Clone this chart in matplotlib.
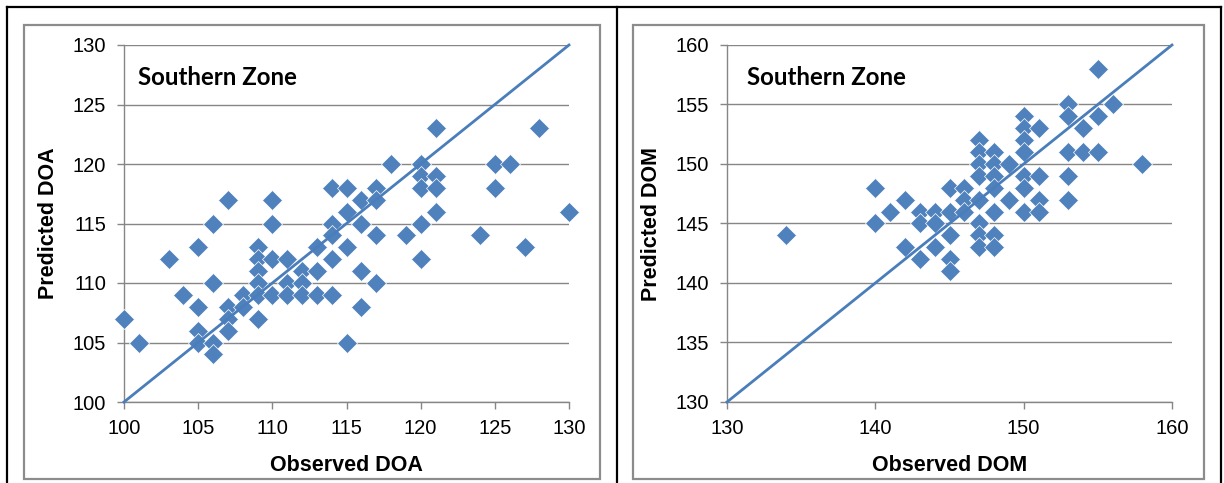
import matplotlib
matplotlib.use('Agg')
import matplotlib.pyplot as plt
from matplotlib.lines import Line2D
from matplotlib.patches import Rectangle

# ---- Data: Southern Zone, DOA ----
doa_observed = [100, 101, 103, 104, 105, 105, 105, 105, 106, 106, 106, 106,
                107, 107, 107, 107, 108, 108, 109, 109, 109, 109, 109, 109,
                110, 110, 110, 110, 111, 111, 111, 112, 112, 112, 113, 113, 113,
                114, 114, 114, 114, 114, 115, 115, 115, 115, 116, 116, 116, 116,
                117, 117, 117, 117, 118, 119, 120, 120, 120, 120, 120,
                121, 121, 121, 121, 124, 125, 125, 126, 127, 128, 130]
doa_predicted = [107, 105, 112, 109, 113, 108, 106, 105, 115, 110, 105, 104,
                 117, 108, 107, 106, 109, 108, 113, 112, 111, 110, 109, 107,
                 117, 115, 112, 109, 112, 110, 109, 111, 110, 109, 113, 111, 109,
                 118, 115, 114, 112, 109, 118, 116, 113, 105, 117, 115, 111, 108,
                 118, 117, 114, 110, 120, 114, 120, 119, 118, 115, 112,
                 123, 119, 118, 116, 114, 120, 118, 120, 113, 123, 116]

# ---- Data: Southern Zone, DOM ----
dom_observed = [134, 140, 140, 141, 142, 142, 143, 143, 143, 144, 144, 144,
                145, 145, 145, 145, 145, 146, 146, 146,
                147, 147, 147, 147, 147, 147, 147, 147,
                148, 148, 148, 148, 148, 148, 148, 149, 149,
                150, 150, 150, 150, 150, 150, 150, 151, 151, 151, 151,
                153, 153, 153, 153, 153, 154, 154, 155, 155, 155, 156, 158]
dom_predicted = [144, 148, 145, 146, 147, 143, 146, 145, 142, 146, 145, 143,
                 148, 146, 144, 142, 141, 148, 147, 146,
                 152, 151, 150, 149, 147, 145, 144, 143,
                 151, 150, 149, 148, 146, 144, 143, 150, 147,
                 154, 153, 152, 151, 149, 148, 146, 153, 149, 147, 146,
                 155, 154, 151, 149, 147, 153, 151, 158, 154, 151, 155, 150]

doa_ticks = [100, 105, 110, 115, 120, 125, 130]
dom_xticks = [130, 140, 150, 160]
dom_yticks = [130, 135, 140, 145, 150, 155, 160]

W, H = 1224, 483
fig = plt.figure(figsize=(W / 100, H / 100), dpi=100)
fig.patch.set_facecolor('white')


def fx(px):
    return px / W


def fy(py):
    return 1 - py / H


# outer table borders (black)
for (x0, y0, x1, y1) in [(7, 7, 7, H), (617, 7, 617, H), (1221, 7, 1221, H), (7, 7, 1221, 7)]:
    fig.add_artist(Line2D([fx(x0), fx(x1)], [fy(y0), fy(y1)], color='black', lw=1.6,
                          transform=fig.transFigure))

# chart area frames (gray)
for (x0, x1) in [(24, 600), (633, 1204)]:
    fig.add_artist(Rectangle((fx(x0), fy(479)), fx(x1) - fx(x0), fy(25) - fy(479),
                             transform=fig.transFigure, fill=False, ec='#8c8c8c', lw=1.6))

blue = '#4F81BD'
gray = '#868686'
tick_font = {'family': 'Liberation Sans', 'size': 14.5}
label_font = {'family': 'Liberation Sans', 'size': 15.5, 'weight': 'bold'}


def make_axes(left_px, obs, pred, lo, hi, xticks, yticks, xlabel, ylabel, title_x):
    ax = fig.add_axes([fx(left_px), fy(402), 445 / W, 357 / H])
    ax.set_xlim(lo, hi)
    ax.set_ylim(lo, hi)
    ax.set_xticks(xticks)
    ax.set_yticks(yticks)
    ax.set_xticklabels([str(t) for t in xticks], fontdict=tick_font)
    ax.set_yticklabels([str(t) for t in yticks], fontdict=tick_font)
    for s in ['top', 'right']:
        ax.spines[s].set_visible(False)
    for s in ['left', 'bottom']:
        ax.spines[s].set_color(gray)
        ax.spines[s].set_linewidth(1.0)
    ax.tick_params(axis='both', colors=gray, length=5, width=1.0, labelcolor='black')
    ax.tick_params(axis='x', pad=7)
    ax.tick_params(axis='y', pad=8)
    ax.yaxis.grid(True, color=gray, lw=1.0)
    ax.set_axisbelow(True)
    ax.plot(obs, pred, linestyle='none', marker='D', ms=10.2, mfc=blue,
            mec='white', mew=0.5, zorder=3, clip_on=False)
    ax.plot([lo, hi], [lo, hi], color='#4A7EBB', lw=2.0, zorder=4, clip_on=False)
    ax.set_xlabel(xlabel, fontdict=label_font)
    ax.set_ylabel(ylabel, fontdict=label_font)
    ax.xaxis.set_label_coords(0.5, -0.148)
    ax.yaxis.set_label_coords(-0.146, 0.5)
    ax.text(title_x, 0.908, 'Southern Zone', transform=ax.transAxes, ha='left', va='center',
            fontfamily='Lato', fontweight='bold', fontsize=17.3)
    return ax


make_axes(124, doa_observed, doa_predicted, 100, 130, doa_ticks, doa_ticks,
          'Observed DOA', 'Predicted DOA', 0.032)
make_axes(727, dom_observed, dom_predicted, 130, 160, dom_xticks, dom_yticks,
          'Observed DOM', 'Predicted DOM', 0.044)

fig.savefig('out.png', dpi=100)
